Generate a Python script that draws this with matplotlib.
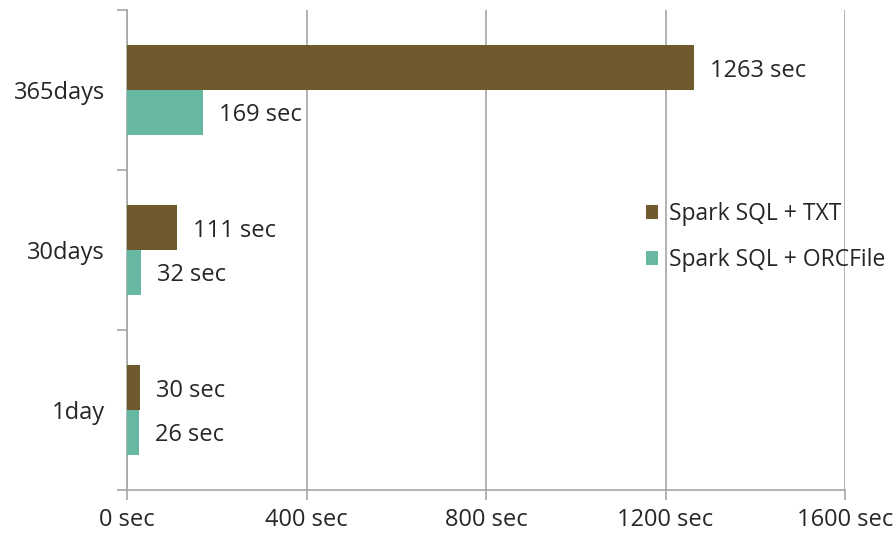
import matplotlib
matplotlib.use("Agg")
import matplotlib.pyplot as plt
import numpy as np

categories = ["1day", "30days", "365days"]
txt_values = [30, 111, 1263]
orc_values = [26, 32, 169]
series_names = ["Spark SQL + TXT", "Spark SQL + ORCFile"]
x_ticks = [0, 400, 800, 1200, 1600]
x_tick_labels = ["0 sec", "400 sec", "800 sec", "1200 sec", "1600 sec"]

brown = "#6E5A2D"
teal = "#67B8A2"
grid_c = "#A6A6A6"
text_c = "#262626"
fs = 17

plt.rcParams['font.family'] = ['Open Sans', 'DejaVu Sans']

fig = plt.figure(figsize=(8.96, 5.33), dpi=100)
ax = fig.add_axes([127/896, 43/533, (845-127)/896, 480/533])

y = np.arange(len(categories))
h = 0.28
b1 = ax.barh(y + h/2, txt_values, height=h, color=brown, label=series_names[0], zorder=3)
b2 = ax.barh(y - h/2, orc_values, height=h, color=teal, label=series_names[1], zorder=3)

for bars, vals in ((b1, txt_values), (b2, orc_values)):
    for rect, v in zip(bars, vals):
        ax.annotate(f"{v} sec", (rect.get_width(), rect.get_y() + rect.get_height()/2),
                    xytext=(16, -3), textcoords="offset pixels",
                    va="center", ha="left", fontsize=fs, color=text_c)

ax.set_xlim(0, 1600)
ax.set_ylim(-0.5, 2.5)
ax.set_xticks(x_ticks)
ax.set_xticklabels(x_tick_labels, fontsize=fs, color=text_c)
ax.xaxis.grid(True, color=grid_c, linewidth=1.2, zorder=0)

ax.set_yticks(y)
ax.set_yticklabels(categories, fontsize=fs, color=text_c)
ax.set_yticks([-0.5, 0.5, 1.5, 2.5], minor=True)
ax.tick_params(axis="y", which="major", length=0, pad=16)
ax.tick_params(axis="y", which="minor", length=7, color=grid_c, width=1.2)
ax.tick_params(axis="x", length=7, color=grid_c, width=1.2, pad=6)

for s in ("top", "right"):
    ax.spines[s].set_visible(False)
for s in ("left", "bottom"):
    ax.spines[s].set_color(grid_c)
    ax.spines[s].set_linewidth(1.2)

ax.legend(loc="center left", bbox_to_anchor=(625/896, 1 - 237/533), bbox_transform=fig.transFigure,
          frameon=False, fontsize=16.5, handlelength=0.55, handleheight=0.55, handletextpad=0.45,
          labelspacing=0.95, labelcolor=text_c)

fig.savefig("out.png", dpi=100, facecolor="white")
